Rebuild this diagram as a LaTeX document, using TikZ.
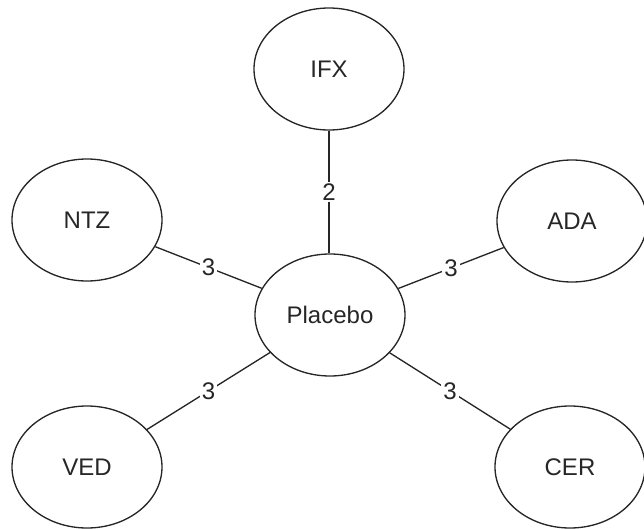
\documentclass[tikz,border=0pt]{standalone}
\usepackage{fontspec}
\setmainfont{Liberation Sans}
\usetikzlibrary{shapes.geometric}

\begin{document}
\begin{tikzpicture}[x = .75pt, y = -.75pt, font = \fontsize{18}{20}\selectfont, text = black!85,
    drug/.style = {draw = black!85, line width = 1pt, ellipse, inner sep = 0pt, minimum width = 112.5pt, minimum height = 91.5pt},
    link/.style = {draw = black!85, line width = 1pt},
    count/.style = {fill = white, inner sep = 1.5pt}]

    \useasboundingbox (0,0) rectangle (644,529);
    \node [drug] (placebo) at (330,315) {Placebo};
    \node [drug] (ifx) at (329,69) {IFX};
    \node [drug] (ntz) at (87,220) {NTZ};
    \node [drug] (ada) at (572,221) {ADA};
    \node [drug] (ved) at (87,467) {VED};
    \node [drug] (cer) at (570,467) {CER};
    \draw [link] (ifx) -- (ifx |- placebo.north) node [count, midway] {2};
    \foreach \drg in {ntz, ada, ved, cer} {
      \draw [link] (\drg) -- (placebo) node [count, midway] {3};
    }
\end{tikzpicture}
\end{document}
